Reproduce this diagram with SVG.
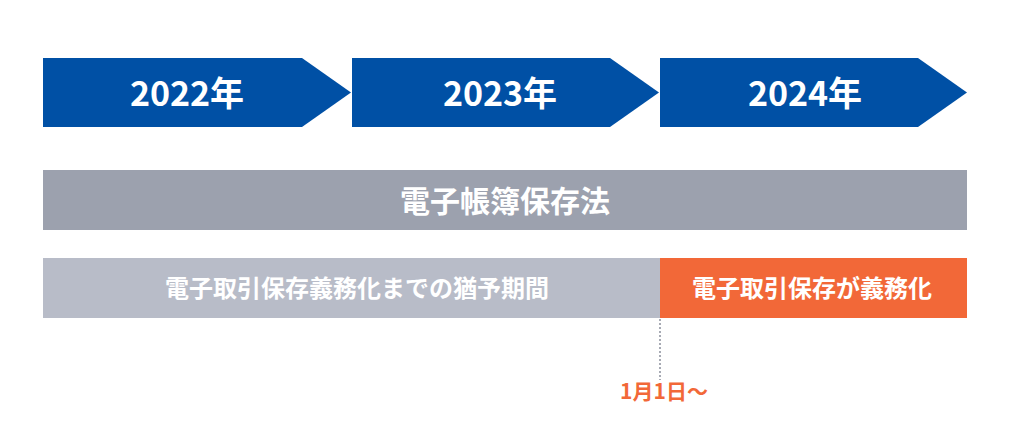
<svg xmlns="http://www.w3.org/2000/svg" width="1024" height="427" viewBox="0 0 1024 427">
<style>
.y{fill:#0050a5}
.t{font-family:"Noto Sans CJK JP","Noto Sans",sans-serif;font-weight:bold;fill:#fff;text-anchor:middle}
</style>
<rect width="1024" height="427" fill="#fff"/>
<g id="y2022"><polygon class="y" points="43,58 302,58 351,92.5 302,127 43,127"/><text class="t" x="187" y="106" font-size="34">2022年</text></g>
<g id="y2023"><polygon class="y" points="352,58 610,58 659,92.5 610,127 352,127"/><text class="t" x="500" y="106" font-size="34">2023年</text></g>
<g id="y2024"><polygon class="y" points="660,58 918,58 967,92.5 918,127 660,127"/><text class="t" x="805" y="106" font-size="34">2024年</text></g>
<g id="law"><rect x="43" y="170" width="924" height="60" fill="#9ca1ae"/><text class="t" x="505" y="212" font-size="30">電子帳簿保存法</text></g>
<g id="grace"><rect x="43" y="258" width="617" height="60" fill="#b8bcc8"/><text class="t" x="357" y="297" font-size="24">電子取引保存義務化までの猶予期間</text></g>
<g id="mandatory"><rect x="660" y="258" width="307" height="60" fill="#f26838"/><text class="t" x="812" y="297" font-size="24">電子取引保存が義務化</text></g>
<g id="connectors"><line x1="660" y1="319" x2="660" y2="380" stroke="#8a8f9c" stroke-width="1.5" stroke-dasharray="2,2"/></g>
<text x="664" y="399" font-family="Noto Sans CJK JP,sans-serif" font-weight="bold" font-size="21" fill="#f26838" text-anchor="middle">1月1日〜</text>
</svg>
